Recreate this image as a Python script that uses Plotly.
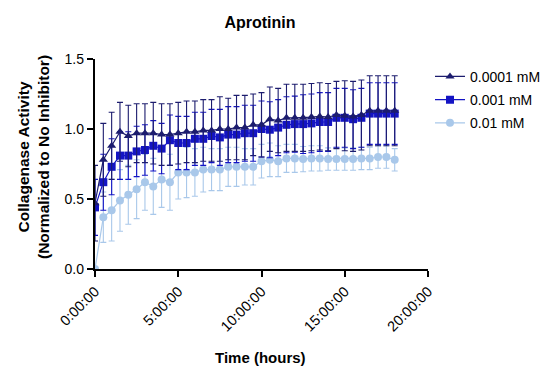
import plotly.graph_objects as go

hours = [0, 0.5, 1, 1.5, 2, 2.5, 3, 3.5, 4, 4.5, 5, 5.5, 6, 6.5, 7, 7.5, 8, 8.5, 9, 9.5,
         10, 10.5, 11, 11.5, 12, 12.5, 13, 13.5, 14, 14.5, 15, 15.5, 16, 16.5, 17, 17.5, 18]

act_0001 = [0.47, 0.78, 0.88, 0.98, 0.95, 0.97, 0.97, 0.97, 0.96, 0.96, 0.97, 0.98, 0.98, 0.99, 0.99, 1.00,
            1.00, 1.01, 1.01, 1.03, 1.03, 1.07, 1.06, 1.08, 1.08, 1.08, 1.085, 1.09, 1.085, 1.10, 1.095,
            1.09, 1.10, 1.13, 1.13, 1.13, 1.13]
err_0001 = [0.27, 0.26, 0.24, 0.21, 0.22, 0.21, 0.21, 0.22, 0.22, 0.22, 0.22, 0.22, 0.22, 0.22, 0.22, 0.23,
            0.22, 0.23, 0.23, 0.22, 0.23, 0.23, 0.23, 0.24, 0.24, 0.24, 0.24, 0.24, 0.24, 0.24, 0.25,
            0.25, 0.25, 0.25, 0.25, 0.25, 0.25]

act_001 = [0.44, 0.62, 0.73, 0.81, 0.81, 0.84, 0.85, 0.88, 0.86, 0.92, 0.90, 0.90, 0.93, 0.93, 0.95, 0.94,
           0.96, 0.96, 0.97, 0.97, 1.00, 0.995, 1.01, 1.03, 1.035, 1.035, 1.04, 1.05, 1.05, 1.08, 1.08,
           1.07, 1.08, 1.11, 1.11, 1.11, 1.11]
err_001 = [0.20, 0.20, 0.20, 0.17, 0.17, 0.18, 0.18, 0.18, 0.18, 0.18, 0.19, 0.19, 0.19, 0.19, 0.19, 0.20,
           0.20, 0.20, 0.20, 0.20, 0.20, 0.20, 0.20, 0.20, 0.20, 0.21, 0.21, 0.21, 0.21, 0.21, 0.21,
           0.21, 0.21, 0.22, 0.22, 0.22, 0.22]

act_01 = [0.0, 0.37, 0.42, 0.49, 0.53, 0.57, 0.62, 0.59, 0.64, 0.62, 0.69, 0.69, 0.69, 0.71, 0.71, 0.71,
          0.73, 0.73, 0.73, 0.73, 0.77, 0.78, 0.77, 0.79, 0.79, 0.785, 0.79, 0.79, 0.785, 0.785, 0.785,
          0.785, 0.79, 0.79, 0.80, 0.80, 0.78]
err_01 = [0.0, 0.18, 0.22, 0.22, 0.21, 0.21, 0.20, 0.20, 0.20, 0.20, 0.19, 0.18, 0.17, 0.16, 0.15, 0.15,
          0.14, 0.14, 0.13, 0.13, 0.12, 0.12, 0.11, 0.10, 0.10, 0.09, 0.09, 0.09, 0.08, 0.08, 0.08,
          0.08, 0.08, 0.08, 0.08, 0.08, 0.08]

tick_vals = [0, 5, 10, 15, 20]
tick_text = ["0:00:00", "5:00:00", "10:00:00", "15:00:00", "20:00:00"]
y_ticks = [0, 0.5, 1.0, 1.5]

FONT = "Liberation Sans, Arial, sans-serif"

fig = go.Figure()

# drawn bottom-to-top; legend order set by legendrank
series = [
    ("0.01 mM", act_01, err_01, "#a9c8ea", "circle", 8, 3),
    ("0.001 mM", act_001, err_001, "#1414c4", "square", 8, 2),
    ("0.0001 mM", act_0001, err_0001, "#1c1c6e", "triangle-up", 8, 1),
]
for name, ys, es, col, sym, sz, rank in series:
    fig.add_trace(go.Scatter(
        x=hours, y=ys, name=name, mode="lines+markers", legendgroup=f"g{rank}", legendrank=rank,
        line=dict(color=col, width=1.2),
        marker=dict(color=col, symbol=sym, size=sz),
        error_y=dict(type="data", array=es, visible=True, color=col, thickness=1.1, width=3),
    ))

fig.update_layout(
    width=557, height=371,
    margin=dict(l=0, r=0, t=0, b=0, autoexpand=False),
    paper_bgcolor="white", plot_bgcolor="white",
    font=dict(family=FONT, color="black", size=13),
    title=dict(text="<b>Aprotinin</b>", x=260 / 557, xanchor="center", y=1 - 22 / 371, yanchor="middle",
               font=dict(size=16, family=FONT)),
    showlegend=True,
    legend=dict(x=0.772, y=0.836, xanchor="left", yanchor="top", traceorder="grouped",
                font=dict(size=14, family=FONT), bgcolor="rgba(0,0,0,0)", tracegroupgap=2),
    xaxis=dict(domain=[95 / 557, 428 / 557], range=[0, 20], tickvals=tick_vals, ticktext=tick_text,
               tickangle=-45, showline=True, linecolor="black", linewidth=2.4, ticks="outside",
               ticklen=6, tickwidth=2.2, tickcolor="black", showgrid=False, zeroline=False,
               automargin=False, tickfont=dict(size=14.5, family=FONT)),
    yaxis=dict(domain=[1 - 269 / 371, 1 - 59 / 371], range=[0, 1.5], tickvals=y_ticks, tickformat=".1f",
               showline=True, linecolor="black", linewidth=2.4, ticks="outside", ticklen=6,
               tickwidth=2.2, tickcolor="black", showgrid=False, zeroline=False, automargin=False,
               tickfont=dict(size=14, family=FONT)),
    annotations=[
        dict(text="<b>Collagenase Activity<br>(Normalized to No Inhibitor)</b>", textangle=-90,
             xref="paper", yref="paper", x=34 / 557, y=1 - 157 / 371, xanchor="center", yanchor="middle",
             showarrow=False, font=dict(size=15.5, family=FONT)),
        dict(text="<b>Time (hours)</b>", xref="paper", yref="paper", x=260 / 557, y=1 - 357 / 371,
             xanchor="center", yanchor="middle", showarrow=False, font=dict(size=15, family=FONT)),
    ],
)

fig.write_html("out.html")
